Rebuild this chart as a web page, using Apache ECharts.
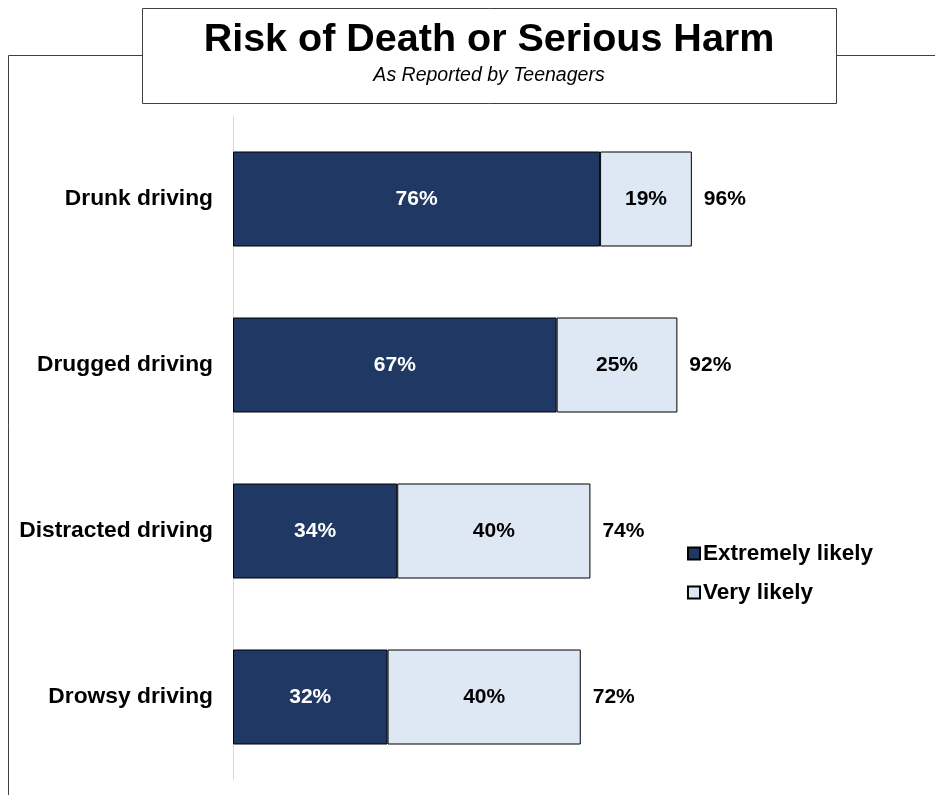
<!DOCTYPE html>
<html>
<head>
<meta charset="utf-8">
<script src="https://cdn.jsdelivr.net/npm/echarts@6/dist/echarts.min.js"></script>
<style>html,body{margin:0;padding:0;background:#fff}#c{width:935px;height:795px}</style>
</head>
<body>
<div id="c"></div>
<script>
var categories = ['Drunk driving', 'Drugged driving', 'Distracted driving', 'Drowsy driving'];
var extremelyLikely = [76, 67, 34, 32];
var veryLikely = [19, 25, 40, 40];
var totals = [96, 92, 74, 72];
var seriesNames = ['Extremely likely', 'Very likely'];

var FONT = '"Liberation Sans", Arial, sans-serif';
var chart = echarts.init(document.getElementById('c'));
var sums = extremelyLikely.map(function (v, i) { return v + veryLikely[i]; });

chart.setOption({
  animation: false,
  backgroundColor: '#ffffff',
  graphic: [
    { type: 'polyline', z: 0, shape: { points: [[8.5, 795], [8.5, 55.5], [142, 55.5]] }, style: { stroke: '#404040', lineWidth: 1, fill: null } },
    { type: 'line', z: 0, shape: { x1: 836, y1: 55.5, x2: 935, y2: 55.5 }, style: { stroke: '#404040', lineWidth: 1 } },
    { type: 'rect', z: 1, shape: { x: 142.5, y: 8.5, width: 694, height: 95 }, style: { fill: '#ffffff', stroke: '#404040', lineWidth: 1 } }
  ],
  title: {
    text: 'Risk of Death or Serious Harm',
    subtext: 'As Reported by Teenagers',
    left: 484,
    textAlign: 'center',
    top: 15,
    itemGap: 6,
    z: 10,
    textStyle: { fontFamily: FONT, fontWeight: 'bold', fontSize: 39.5, color: '#000000' },
    subtextStyle: { fontFamily: FONT, fontStyle: 'italic', fontSize: 19.5, color: '#000000' }
  },
  legend: {
    data: seriesNames,
    orient: 'vertical',
    left: 682,
    top: 537,
    itemWidth: 12,
    itemHeight: 12,
    itemGap: 16,
    icon: 'rect',
    textStyle: { fontFamily: FONT, fontWeight: 'bold', fontSize: 22.5, color: '#000000', padding: [0, 0, 0, -2] }
  },
  grid: { left: 233, top: 116, width: 483, height: 664 },
  xAxis: { type: 'value', min: 0, max: 100, show: false },
  yAxis: {
    type: 'category',
    data: categories,
    inverse: true,
    axisLine: { show: true, lineStyle: { color: '#d9d9d9', width: 1 } },
    axisTick: { show: false },
    axisLabel: { margin: 20, fontFamily: FONT, fontWeight: 'bold', fontSize: 22.8, color: '#000000' }
  },
  series: [
    {
      name: seriesNames[0], type: 'bar', stack: 'a', barWidth: 95,
      data: extremelyLikely,
      itemStyle: { color: '#203864', borderColor: '#000000', borderWidth: 1 },
      label: { show: true, position: 'inside', formatter: '{c}%', fontFamily: FONT, fontWeight: 'bold', fontSize: 21, color: '#ffffff' }
    },
    {
      name: seriesNames[1], type: 'bar', stack: 'a', barWidth: 95,
      data: veryLikely,
      itemStyle: { color: '#DEE8F4', borderColor: '#000000', borderWidth: 1 },
      label: { show: true, position: 'inside', formatter: '{c}%', fontFamily: FONT, fontWeight: 'bold', fontSize: 21, color: '#000000' }
    },
    {
      name: 'total', type: 'bar', barWidth: 95, barGap: '-100%', z: 1, silent: true,
      data: sums,
      itemStyle: { color: 'rgba(0,0,0,0)' },
      label: {
        show: true, position: 'right', distance: 12,
        formatter: function (p) { return totals[p.dataIndex] + '%'; },
        fontFamily: FONT, fontWeight: 'bold', fontSize: 21, color: '#000000'
      }
    }
  ]
});
</script>
</body>
</html>
